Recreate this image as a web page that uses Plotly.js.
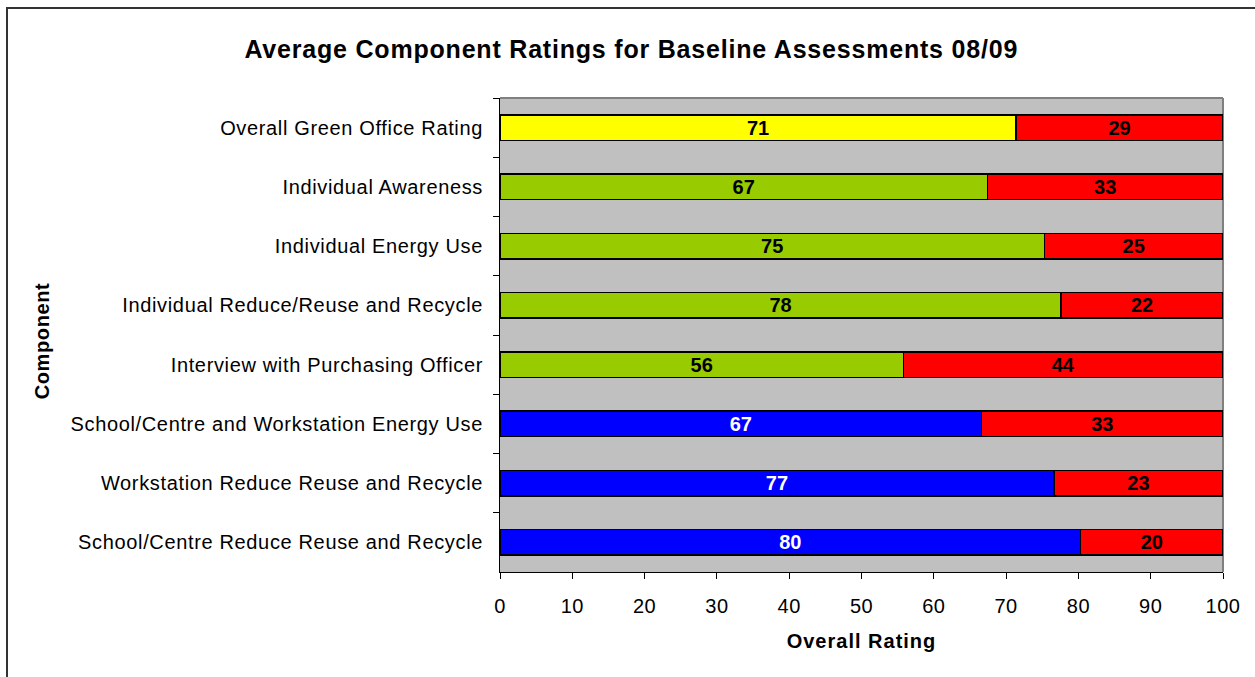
<!DOCTYPE html>
<html>
<head>
<meta charset="utf-8">
<script src="https://cdn.plot.ly/plotly-3.0.1.min.js"></script>
<style>
  html, body { margin: 0; padding: 0; background: #fff; }
  #chart { width: 1255px; height: 677px; }
  #frame { position: absolute; left: 6px; top: 7px; width: 1300px; height: 720px;
           border-left: 2px solid #333; border-top: 2px solid #333; pointer-events: none; }
</style>
</head>
<body>
<div id="chart"></div>
<div id="frame"></div>
<script>
const components = [
  "Overall Green Office Rating",
  "Individual Awareness",
  "Individual Energy Use",
  "Individual Reduce/Reuse and Recycle",
  "Interview with Purchasing Officer",
  "School/Centre and Workstation Energy Use",
  "Workstation Reduce Reuse and Recycle",
  "School/Centre Reduce Reuse and Recycle"
];
const ratingValues = [71.4, 67.4, 75.3, 77.6, 55.8, 66.6, 76.6, 80.3];
const remainderValues = [28.6, 32.6, 24.7, 22.4, 44.2, 33.4, 23.4, 19.7];
const xTickValues = [0, 10, 20, 30, 40, 50, 60, 70, 80, 90, 100];

const ratingColours = ["#FFFF00", "#99CC00", "#99CC00", "#99CC00", "#99CC00", "#0000FF", "#0000FF", "#0000FF"];
const ratingTextColours = ["#000", "#000", "#000", "#000", "#000", "#fff", "#fff", "#fff"];

const FONT = "Liberation Sans, Arial, sans-serif";

const common = {
  type: "bar",
  orientation: "h",
  y: components,
  texttemplate: "%{x:.0f}",
  textposition: "inside",
  insidetextanchor: "middle",
  constraintext: "none",
  hoverinfo: "x+y",
  cliponaxis: false
};

const traces = [
  Object.assign({}, common, {
    name: "Rating",
    x: ratingValues,
    marker: { color: ratingColours, line: { color: "#000", width: 1.5 } },
    textfont: { family: FONT, size: 20, weight: "bold", color: ratingTextColours }
  }),
  Object.assign({}, common, {
    name: "Remainder",
    x: remainderValues,
    marker: { color: "#FF0000", line: { color: "#000", width: 1.5 } },
    textfont: { family: FONT, size: 20, weight: "bold", color: "#000" }
  })
];

const layout = {
  width: 1255,
  height: 677,
  margin: { l: 500, r: 32, t: 98, b: 105, pad: 0 },
  paper_bgcolor: "#fff",
  plot_bgcolor: "#C0C0C0",
  barmode: "stack",
  bargap: 0.57,
  showlegend: false,
  font: { family: FONT, color: "#000", size: 20 },
  title: {
    text: "Average Component Ratings for Baseline Assessments 08/09",
    font: { family: FONT, size: 25, weight: "bold", color: "#000" },
    x: 0.503, xref: "container", xanchor: "center",
    y: 48, yref: "container", yanchor: "middle"
  },
  xaxis: {
    range: [0, 100],
    tickvals: xTickValues,
    ticktext: xTickValues.map(String),
    ticks: "outside", ticklen: 6, tickcolor: "#000", tickwidth: 1,
    showline: true, linecolor: "#000", linewidth: 1,
    showgrid: false, zeroline: false,
    tickfont: { size: 20 },
    ticklabelstandoff: 10,
    title: { text: "Overall Rating", font: { size: 20, weight: "bold" }, standoff: 17 },
    fixedrange: true
  },
  yaxis: {
    type: "category",
    autorange: "reversed",
    tickson: "boundaries",
    ticks: "outside", ticklen: 6, tickcolor: "#000", tickwidth: 1,
    showline: true, linecolor: "#000", linewidth: 1,
    showgrid: false, zeroline: false,
    tickfont: { size: 20 },
    ticklabelstandoff: 12,
    title: { text: "Component", font: { size: 20, weight: "bold" }, standoff: 0 },
    automargin: false,
    fixedrange: true
  },
  shapes: [
    { type: "line", xref: "paper", yref: "paper", x0: 0, x1: 1, y0: 1, y1: 1, line: { color: "#808080", width: 2 }, layer: "below" },
    { type: "line", xref: "paper", yref: "paper", x0: 1, x1: 1, y0: 0, y1: 1, line: { color: "#808080", width: 2 }, layer: "below" }
  ]
};

Plotly.newPlot("chart", traces, layout, { displayModeBar: false, staticPlot: true }).then(function () {
  const spacing = function (sel, px) {
    document.querySelectorAll(sel).forEach(function (el) { el.style.letterSpacing = px; });
  };
  spacing(".gtitle", "0.8px");
  spacing(".ytick text", "0.65px");
  spacing(".xtick text", "0.5px");
  spacing(".xtitle", "1px");
  spacing(".ytitle", "0.6px");
  const yt = document.querySelector(".ytitle");
  if (yt) {
    const y = parseFloat(yt.getAttribute("y")) + 6;
    yt.setAttribute("x", "49");
    yt.setAttribute("y", String(y));
    yt.setAttribute("transform", "rotate(-90,49," + y + ")");
  }
});
</script>
</body>
</html>
